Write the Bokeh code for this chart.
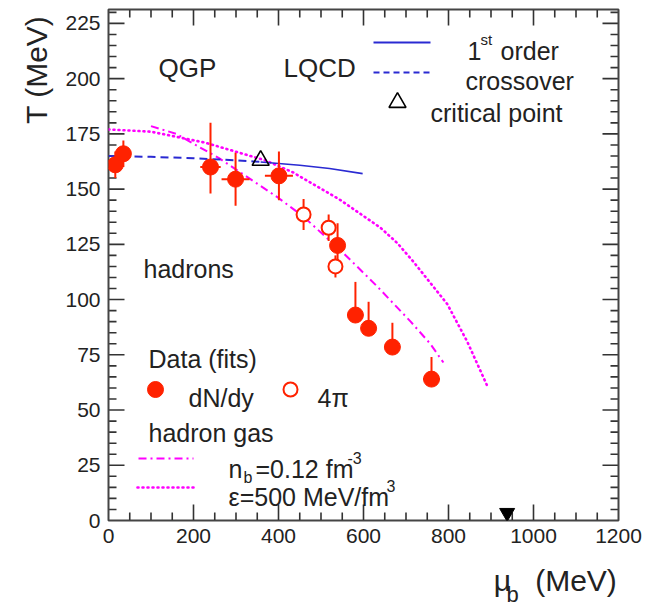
import numpy as np
from bokeh.plotting import figure
from bokeh.models import LinearAxis, SingleIntervalTicker, FixedTicker, Range1d, Label
from bokeh.embed import file_html
from bokeh.resources import INLINE

# ---------------- data ----------------
# chemical freeze-out fits, dN/dy (filled)
dndy_mu = [16, 35, 240, 299, 401, 539, 581, 612, 668, 760]
dndy_T = [161, 166, 160, 154.5, 156, 124.5, 93, 87, 78.5, 64]
dndy_err_up = [6, 6, 20, 12, 11, 10, 15, 12, 11, 10]
dndy_err_dn = [6, 6, 12, 12, 11, 10, 0, 0, 0, 0]
dndy_err_x = [0, 0, 24, 33, 33, 12, 0, 0, 0, 20]

# 4pi fits (open)
fourpi_mu = [459, 518, 534]
fourpi_T = [138.5, 132.5, 115]
fourpi_err = [7, 6, 5]

# lattice QCD
cross_mu = [0, 100, 200, 300, 358]
cross_T = [165, 164.6, 164, 163, 162.3]
first_mu = [358, 450, 520, 598]
first_T = [162.3, 160.8, 159.3, 157]
crit_mu = [358]
crit_T = [163]

# hadron gas curves
nb_mu = [100, 160, 205, 260, 334, 400, 459, 553, 632, 711, 757, 788]
nb_T = [178.5, 175, 170, 164, 154.5, 146, 137.5, 121, 106, 90, 80, 71.5]
eps_mu = [0, 100, 228, 369, 435, 546, 640, 680, 718, 797, 844, 891]
eps_T = [177, 176, 171, 163, 157.5, 145, 132.5, 125.5, 117, 98, 81, 61]

# nucleon mass marker
nucleon_mu = [938]
nucleon_T = [3.5]

# axis ticks
x_major, x_minor = 200, 50
y_major, y_minor = 25, 5
X_MAX = 1200.0
YMAX = 231.3

# ---------------- figure ----------------
W, H = 648, 613
FL, FT, FR, FB = 108, 9, 618, 520          # frame edges in canvas pixels
p = figure(width=W, height=H, x_range=Range1d(0, X_MAX), y_range=Range1d(0, YMAX),
           output_backend="svg", toolbar_location=None,
           x_axis_type=None, y_axis_type=None,
           min_border_left=FL, min_border_right=W - FR,
           min_border_top=FT, min_border_bottom=H - FB)
p.outline_line_color = "#444444"
p.outline_line_width = 2
p.background_fill_color = "white"
p.border_fill_color = "white"

FONT = "Liberation Sans"
INK = "#222222"
TICK = "#333333"


def make_axis(interval):
    ax = LinearAxis(ticker=SingleIntervalTicker(interval=interval, num_minor_ticks=0))
    ax.axis_line_color = None
    ax.major_tick_line_color = None
    ax.minor_tick_line_color = None
    ax.major_tick_in = 0
    ax.major_tick_out = 0
    ax.minor_tick_in = 0
    ax.minor_tick_out = 0
    ax.major_label_text_font = FONT
    ax.major_label_text_font_size = "21px"
    ax.major_label_text_color = INK
    ax.major_label_standoff = 8
    return ax


p.add_layout(make_axis(x_major), "below")
p.add_layout(make_axis(y_major), "left")


def title_axis(positions, texts, size, standoff, orient="horizontal"):
    ax = LinearAxis(ticker=FixedTicker(ticks=positions, minor_ticks=[]),
                    major_label_overrides=dict(zip(positions, texts)))
    ax.axis_line_color = None
    ax.major_tick_line_color = None
    ax.minor_tick_line_color = None
    ax.major_tick_in = 0
    ax.major_tick_out = 0
    ax.minor_tick_in = 0
    ax.minor_tick_out = 0
    ax.major_label_text_font = FONT
    ax.major_label_text_font_size = f"{size}px"
    ax.major_label_text_color = INK
    ax.major_label_standoff = standoff
    ax.major_label_orientation = orient
    return ax


# axis titles (placed as outer label-only axes so they are not clipped)
p.add_layout(title_axis([204], ["T (MeV)"], 30, 9, "parallel"), "left")
p.add_layout(title_axis([927, 1100], ["\u03bc", "(MeV)"], 30, 18), "below")
p.add_layout(title_axis([951], ["b"], 22, -18), "below")

SX = (FR - FL) / X_MAX
SY = (FB - FT) / YMAX

# ---------------- inward ticks on all four sides (ROOT style) ----------------
MAJ_LEN, MIN_LEN = 16.0, 8.0
INSET = 0.6
xt = [float(v) for v in np.arange(x_minor, X_MAX, x_minor)]
yt = [float(v) for v in np.arange(y_minor, YMAX - 1, y_minor)]
tick_xs, tick_ys = [], []
for v in xt:
    L = (MAJ_LEN if v % x_major == 0 else MIN_LEN) / SY
    e = INSET / SY
    tick_xs += [[v, v], [v, v]]
    tick_ys += [[e, L], [YMAX - e, YMAX - L]]
for v in yt:
    L = (MAJ_LEN if v % y_major == 0 else MIN_LEN) / SX
    e = INSET / SX
    tick_xs += [[e, L], [X_MAX - e, X_MAX - L]]
    tick_ys += [[v, v], [v, v]]
p.multi_line(xs=tick_xs, ys=tick_ys, line_color=TICK, line_width=1.6)

BLUE = "#2a2ad2"
MAG = "#ff00ff"
RED = "#ff2200"

# ---------------- curves ----------------
p.line(eps_mu, eps_T, line_color=MAG, line_width=2.6, line_dash="1 4", line_cap="round")
p.line(nb_mu, nb_T, line_color=MAG, line_width=2, line_dash="8 4 2 4")
p.line(cross_mu, cross_T, line_color=BLUE, line_width=2, line_dash="8 5")
p.line(first_mu, first_T, line_color=BLUE, line_width=1.6)
p.scatter(crit_mu, crit_T, marker="triangle", size=17, fill_color=None,
          line_color="black", line_width=1.6)

# ---------------- data points with error bars ----------------
lo = [t - e for t, e in zip(dndy_T, dndy_err_dn)]
hi = [t + e for t, e in zip(dndy_T, dndy_err_up)]
p.segment(dndy_mu, lo, dndy_mu, hi, line_color=RED, line_width=2)
xl = [m - e for m, e in zip(dndy_mu, dndy_err_x)]
xh = [m + e for m, e in zip(dndy_mu, dndy_err_x)]
p.segment(xl, dndy_T, xh, dndy_T, line_color=RED, line_width=2)

lo4 = [t - e for t, e in zip(fourpi_T, fourpi_err)]
hi4 = [t + e for t, e in zip(fourpi_T, fourpi_err)]
p.segment(fourpi_mu, lo4, fourpi_mu, hi4, line_color=RED, line_width=2)

p.scatter(dndy_mu, dndy_T, marker="circle", size=16, fill_color=RED, line_color=RED)
p.scatter(fourpi_mu, fourpi_T, marker="circle", size=14, fill_color="white",
          line_color=RED, line_width=2)

p.scatter(nucleon_mu, nucleon_T, marker="inverted_triangle", size=15,
          fill_color="black", line_color="black")


# ---------------- text / legends (canvas-pixel layout -> data coords) ----------------
def dx(px):
    return (px - FL) / SX


def dy(py):
    return (FB - py) / SY


def lab(px, py, text, size=25):
    p.add_layout(Label(x=dx(px), y=dy(py), text=text, text_font=FONT,
                       text_font_size=f"{size}px", text_color=INK, text_align="left",
                       text_baseline="alphabetic"))


lab(158, 67, "QGP", 26)
lab(283, 67, "LQCD", 26)

# LQCD legend
p.line([dx(373), dx(430)], [dy(42), dy(42)], line_color=BLUE, line_width=1.8)
p.line([dx(373), dx(430)], [dy(72), dy(72)], line_color=BLUE, line_width=2, line_dash="6 4")
p.scatter([dx(397)], [dy(102)], marker="triangle", size=17, fill_color=None,
          line_color="black", line_width=1.6)
lab(467, 50, "1")
lab(480, 39, "st", 15)
lab(500, 50, "order")
lab(465, 80, "crossover")
lab(430, 112, "critical point")

lab(143, 268, "hadrons")

# data legend
lab(148, 358, "Data (fits)")
p.scatter([dx(155)], [dy(389)], marker="circle", size=16, fill_color=RED, line_color=RED)
lab(188, 397, "dN/dy")
p.scatter([dx(290)], [dy(389)], marker="circle", size=14, fill_color="white",
          line_color=RED, line_width=2)
lab(317, 397, "4\u03c0")

# hadron gas legend
lab(148, 432, "hadron gas")
p.line([dx(138), dx(193)], [dy(458), dy(458)], line_color=MAG, line_width=2, line_dash="8 4 2 4")
p.line([dx(137), dx(193)], [dy(487), dy(487)], line_color=MAG, line_width=2.6,
       line_dash="1 4", line_cap="round")
lab(228, 468, "n")
lab(243, 477, "b", 16)
lab(255, 468, "=0.12 fm")
lab(347, 457, "-3", 16)
lab(228, 496, "\u03b5=500 MeV/fm")
lab(386, 485, "3", 16)

open("out.html", "w").write(file_html(p, INLINE))
